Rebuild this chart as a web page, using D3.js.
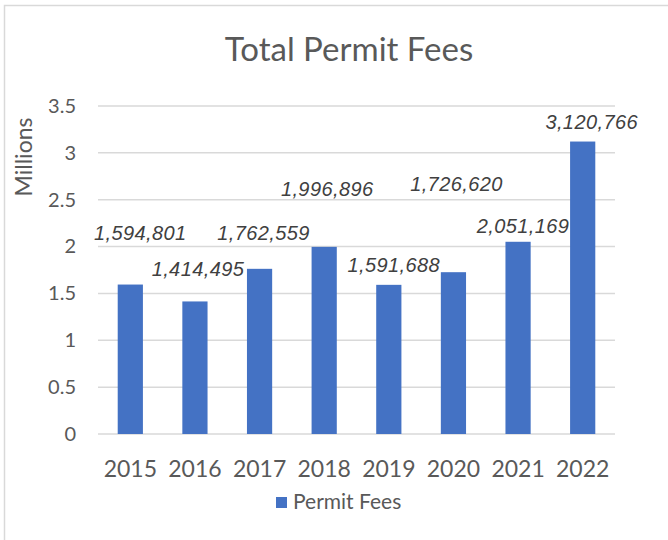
<!DOCTYPE html>
<html>
<head>
<meta charset="utf-8">
<script src="https://cdn.jsdelivr.net/npm/d3@7"></script>
<style>
    body { margin: 0; background: #fff; }
    .axisText { font-family: Lato, "Open Sans", sans-serif; fill: #595959; }
    .dataLabel { font-family: "Liberation Sans", Arial, sans-serif; font-style: italic; fill: #404040; letter-spacing: 0.4px; }
</style>
</head>
<body>
<script>
(function(){

    //chart data
    var years = ["2015", "2016", "2017", "2018", "2019", "2020", "2021", "2022"];
    var permitFees = [1594801, 1414495, 1762559, 1996896, 1591688, 1726620, 2051169, 3120766];
    var yTicks = [0, 0.5, 1, 1.5, 2, 2.5, 3, 3.5]; //millions
    var seriesName = "Permit Fees";

    //label nudges off the bar top, pixels (labels were hand placed in the original)
    var labelNudge = [[10, -45], [3, -25], [4, -29], [3, -51], [5, -13], [3, -81], [5, -9], [9, -13]];

window.onload = setChart();

function setChart(){

    var width = 668,
        height = 540;

    var svg = d3.select("body")
        .append("svg")
        .attr("width", width)
        .attr("height", height);

    //chart area border
    svg.append("rect")
        .attr("x", 4.5)
        .attr("y", 5.5)
        .attr("width", 720)
        .attr("height", 620)
        .attr("fill", "#fff")
        .attr("stroke", "#d9d9d9")
        .attr("stroke-width", 1.5);

    //scales
    var x = d3.scaleBand()
        .domain(years)
        .range([98, 615])
        .paddingInner(0.61)
        .paddingOuter(0.305);

    var y = d3.scaleLinear()
        .domain([0, 3.5])
        .range([434, 106]);

    //gridlines
    svg.selectAll(".grid")
        .data(yTicks)
        .enter()
        .append("line")
        .attr("class", "grid")
        .attr("x1", 98)
        .attr("x2", 615)
        .attr("y1", function(d){ return y(d); })
        .attr("y2", function(d){ return y(d); })
        .attr("stroke", "#d9d9d9")
        .attr("stroke-width", 1.5);

    //bars
    svg.selectAll(".bar")
        .data(permitFees)
        .enter()
        .append("rect")
        .attr("class", "bar")
        .attr("x", function(d, i){ return x(years[i]); })
        .attr("width", x.bandwidth())
        .attr("y", function(d){ return y(d / 1e6); })
        .attr("height", function(d){ return y(0) - y(d / 1e6); })
        .attr("fill", "#4472c4");

    //data labels
    var fmt = d3.format(",");
    svg.selectAll(".dataLabel")
        .data(permitFees)
        .enter()
        .append("text")
        .attr("class", "dataLabel")
        .attr("x", function(d, i){ return x(years[i]) + x.bandwidth() / 2 + labelNudge[i][0]; })
        .attr("y", function(d, i){ return y(d / 1e6) + labelNudge[i][1]; })
        .attr("text-anchor", "middle")
        .style("font-size", "20px")
        .text(function(d){ return fmt(d); });

    //y axis
    var yAxis = svg.append("g")
        .attr("transform", "translate(98,0)")
        .call(d3.axisLeft(y).tickValues(yTicks).tickSize(0).tickPadding(22)
            .tickFormat(function(d){ return d3.format("")(d); }));
    yAxis.select(".domain").remove();
    yAxis.selectAll("text")
        .attr("class", "axisText")
        .style("font-size", "20px");

    //x axis
    var xAxis = svg.append("g")
        .attr("transform", "translate(0,434)")
        .call(d3.axisBottom(x).tickSize(0).tickPadding(27));
    xAxis.select(".domain").remove();
    xAxis.selectAll("text")
        .attr("class", "axisText")
        .style("font-size", "23px");

    //title
    svg.append("text")
        .attr("class", "axisText")
        .attr("x", 349)
        .attr("y", 61)
        .attr("text-anchor", "middle")
        .style("font-size", "33px")
        .text("Total Permit Fees");

    //axis title
    svg.append("text")
        .attr("class", "axisText")
        .attr("transform", "translate(32,157) rotate(-90)")
        .attr("text-anchor", "middle")
        .style("font-size", "23px")
        .text("Millions");

    //legend
    var legend = svg.append("g")
        .attr("transform", "translate(276,497)");
    legend.append("rect")
        .attr("width", 11)
        .attr("height", 11)
        .attr("fill", "#4472c4");
    legend.append("text")
        .attr("class", "axisText")
        .attr("x", 17)
        .attr("y", 12)
        .style("font-size", "21px")
        .text(seriesName);
};

})();
</script>
</body>
</html>
